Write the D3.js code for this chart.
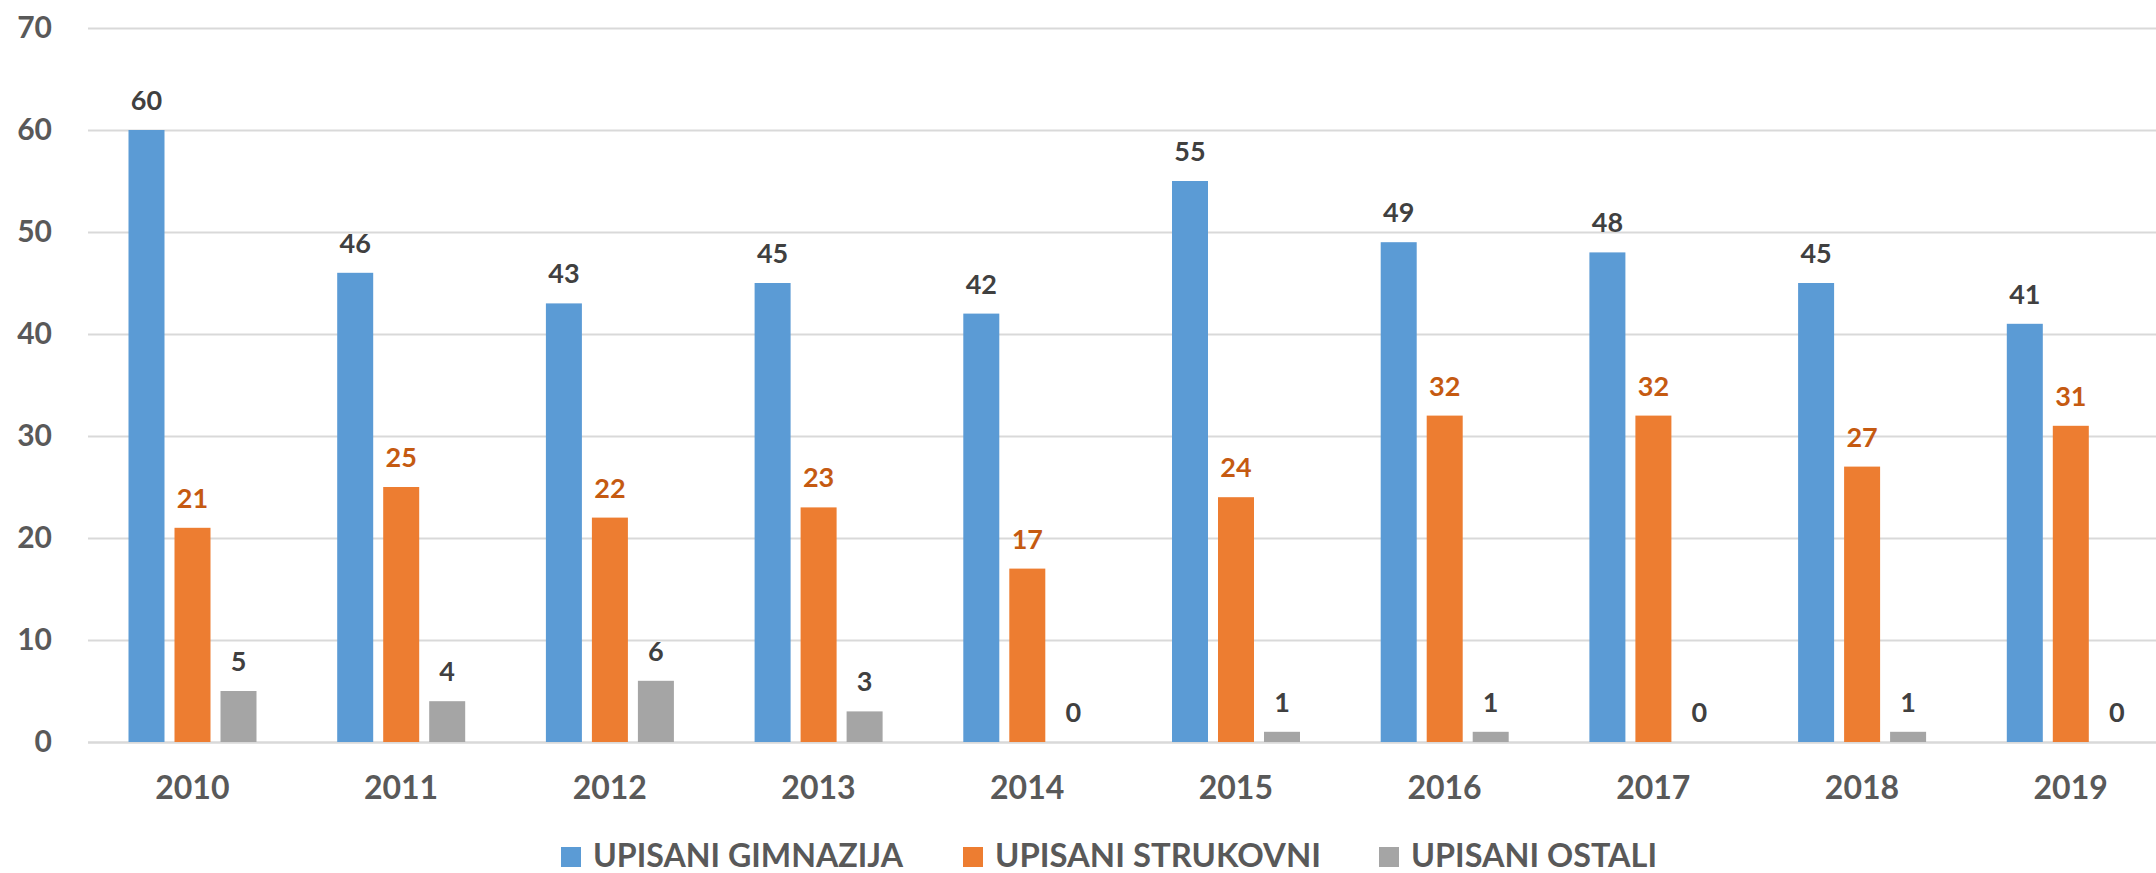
<!DOCTYPE html>
<html>
<head>
<meta charset="utf-8">
<script src="https://cdn.jsdelivr.net/npm/d3@7"></script>
<style>
  html, body { margin: 0; padding: 0; background: #fff; }
  svg { display: block; }
  svg text { font-family: Lato, 'Open Sans', sans-serif; }
</style>
</head>
<body>
<div id="chart"></div>
<script>
let years = ['2010', '2011', '2012', '2013', '2014', '2015', '2016', '2017', '2018', '2019'];
let gimnazija = [60, 46, 43, 45, 42, 55, 49, 48, 45, 41];
let strukovni = [21, 25, 22, 23, 17, 24, 32, 32, 27, 31];
let ostali = [5, 4, 6, 3, 0, 1, 1, 0, 1, 0];
let seriesNames = ['UPISANI GIMNAZIJA', 'UPISANI STRUKOVNI', 'UPISANI OSTALI'];
let yTicks = [0, 10, 20, 30, 40, 50, 60, 70];

let width = 2156;
let height = 873;
let colors = ['#5B9BD5', '#ED7D31', '#A5A5A5'];
let labelColors = ['#404040', '#C55A11', '#404040'];
let seriesData = [gimnazija, strukovni, ostali];

let svg = d3.select('#chart').append('svg')
            .attr('width', width)
            .attr('height', height);

let xScale = d3.scaleBand()
               .domain(years)
               .range([88, 2175]);

let xInner = d3.scaleBand()
               .domain(d3.range(seriesNames.length))
               .range([40.5, 168.5])
               .paddingInner(0.2174);

let yScale = d3.scaleLinear()
               .domain([0, 70])
               .range([742, 28]);

// gridlines
svg.append('g')
   .attr('class', 'grid')
   .attr('transform', 'translate(88, 0)')
   .call(d3.axisLeft(yScale).tickValues(yTicks).tickSize(-(2175 - 88)).tickFormat(''))
   .call(g => g.select('.domain').remove())
   .selectAll('line')
   .attr('stroke', '#d9d9d9')
   .attr('stroke-width', d => d === 0 ? 2.5 : 2);

// y axis labels
svg.append('g')
   .attr('class', 'yaxis')
   .attr('transform', 'translate(88, 0)')
   .call(d3.axisLeft(yScale).tickValues(yTicks).tickSize(0).tickPadding(36))
   .call(g => g.select('.domain').remove())
   .selectAll('text')
   .attr('fill', '#595959')
   .style('font-size', '30px')
   .style('font-weight', 'bold');

// x axis labels
svg.append('g')
   .attr('class', 'xaxis')
   .attr('transform', 'translate(0, 742)')
   .call(d3.axisBottom(xScale).tickSize(0).tickPadding(34))
   .call(g => g.select('.domain').remove())
   .selectAll('text')
   .attr('fill', '#595959')
   .style('font-size', '32px')
   .style('font-weight', 'bold');

// bars + value labels
seriesData.forEach((vals, s) => {
  let g = svg.append('g').attr('class', 'series s' + s);
  g.selectAll('rect')
   .data(vals)
   .enter()
   .append('rect')
   .attr('x', (v, i) => xScale(years[i]) + xInner(s))
   .attr('y', v => yScale(v))
   .attr('width', xInner.bandwidth())
   .attr('height', v => yScale(0) - yScale(v))
   .attr('fill', colors[s]);

  g.selectAll('text')
   .data(vals)
   .enter()
   .append('text')
   .attr('x', (v, i) => xScale(years[i]) + xInner(s) + xInner.bandwidth() / 2)
   .attr('y', v => yScale(v) - 20)
   .attr('text-anchor', 'middle')
   .attr('fill', labelColors[s])
   .style('font-size', '27px')
   .style('font-weight', 'bold')
   .text(v => v);
});

// legend
let legendX = [561, 963, 1379];
let legendLen = [310, 326, 246];
let legend = svg.append('g').attr('class', 'legend');
seriesNames.forEach((name, s) => {
  legend.append('rect')
        .attr('x', legendX[s])
        .attr('y', 847)
        .attr('width', 20)
        .attr('height', 20)
        .attr('fill', colors[s]);
  legend.append('text')
        .attr('x', legendX[s] + 32)
        .attr('y', 867)
        .attr('fill', '#595959')
        .attr('textLength', legendLen[s])
        .attr('lengthAdjust', 'spacingAndGlyphs')
        .style('font-size', '33px')
        .style('font-weight', 'bold')
        .text(name);
});
</script>
</body>
</html>
